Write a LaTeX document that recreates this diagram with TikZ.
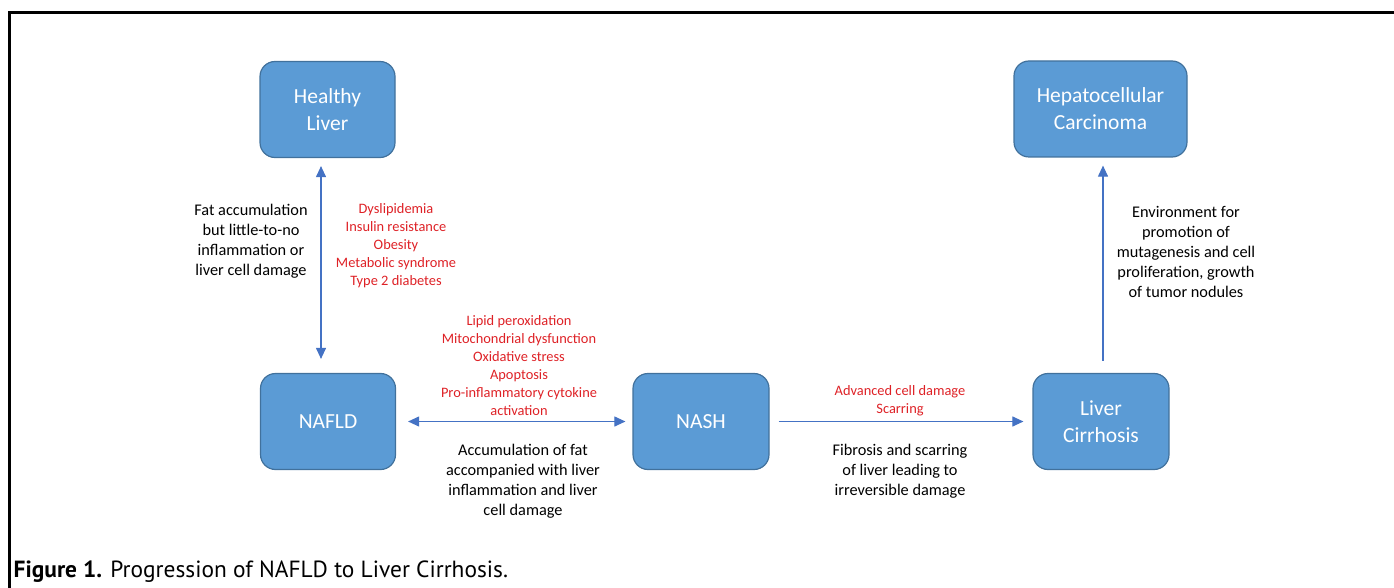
\documentclass[tikz,border=0pt]{standalone}
\usepackage{fontspec}
\setmainfont{Carlito}
\newfontfamily\capfont{PT Sans}
\usetikzlibrary{arrows.meta}
\definecolor{boxfill}{HTML}{5B9BD5}
\definecolor{boxline}{HTML}{41719C}
\definecolor{arrowblue}{HTML}{4472C4}
\definecolor{labelred}{RGB}{222,33,38}
\begin{document}
\begin{tikzpicture}[x=1pt,y=-1pt,
 stage/.style={draw=boxline, line width=1.2pt, fill=boxfill, rounded corners=15pt, minimum width=135pt, minimum height=96pt, text=white, align=center, font=\fontsize{21.5}{27}\selectfont, inner sep=0pt},
 blacknote/.style={align=center, font=\fontsize{16.3}{20}\selectfont, text=black, inner sep=0pt},
 rednote/.style={align=center, font=\fontsize{14.4}{18}\selectfont, text=labelred, inner sep=0pt},
 link/.style={draw=arrowblue, line width=1.1pt, -{Triangle[length=11pt,width=10pt]}},
 twolink/.style={draw=arrowblue, line width=1.1pt, {Triangle[length=11pt,width=10pt]}-{Triangle[length=11pt,width=10pt]}},
]
\useasboundingbox (0,0) rectangle (1394,588);
\draw[line width=3pt] (9.5,588) -- (9.5,12.3) -- (1394,12.3);

\node[stage] (healthy) at (327.5,109.5) {Healthy\\Liver};
\node[stage, minimum width=173pt] (hcc) at (1100.5,109) {Hepatocellular\\Carcinoma};
\node[stage] (nafld) at (328,421.5) {NAFLD};
\node[stage, minimum width=136pt] (nash) at (701,421.5) {NASH};
\node[stage, minimum width=136pt] (cirr) at (1101,421.5) {Liver\\Cirrhosis};

\draw[twolink, shorten <=8pt, shorten >=14pt] ([xshift=-6.5pt]healthy.south) -- ([xshift=-7pt]nafld.north);
\draw[twolink, shorten <=12pt, shorten >=7pt] (nafld.east) -- (nash.west);
\draw[link, shorten <=9pt, shorten >=9pt] (nash.east) -- (cirr.west);
\draw[link, shorten <=12pt, shorten >=8pt] ([xshift=2pt]cirr.north) -- ([xshift=2.5pt]hcc.south);

\node[blacknote] (t1) at (251,241) {Fat accumulation\\but little-to-no\\inflammation or\\liver cell damage};
\node[rednote] (r1) at (396,246) {Dyslipidemia\\Insulin resistance\\Obesity\\Metabolic syndrome\\Type 2 diabetes};
\node[rednote] (r2) at (519,365.5) {Lipid peroxidation\\Mitochondrial dysfunction\\Oxidative stress\\Apoptosis\\Pro-inflammatory cytokine\\activation};
\node[blacknote] (t2) at (523,481) {Accumulation of fat\\accompanied with liver\\inflammation and liver\\cell damage};
\node[rednote] (r3) at (900,400.5) {Advanced cell damage\\Scarring};
\node[blacknote] (t3) at (900,471) {Fibrosis and scarring\\of liver leading to\\irreversible damage};
\node[blacknote] (t4) at (1186,252) {Environment for\\promotion of\\mutagenesis and cell\\proliferation, growth\\of tumor nodules};

\node[anchor=base west, inner sep=0pt, font=\capfont\fontsize{23.4}{28}\selectfont] (cap) at (13.5,577) {\textbf{Figure 1.} Progression of NAFLD to Liver Cirrhosis.};
\end{tikzpicture}
\end{document}
